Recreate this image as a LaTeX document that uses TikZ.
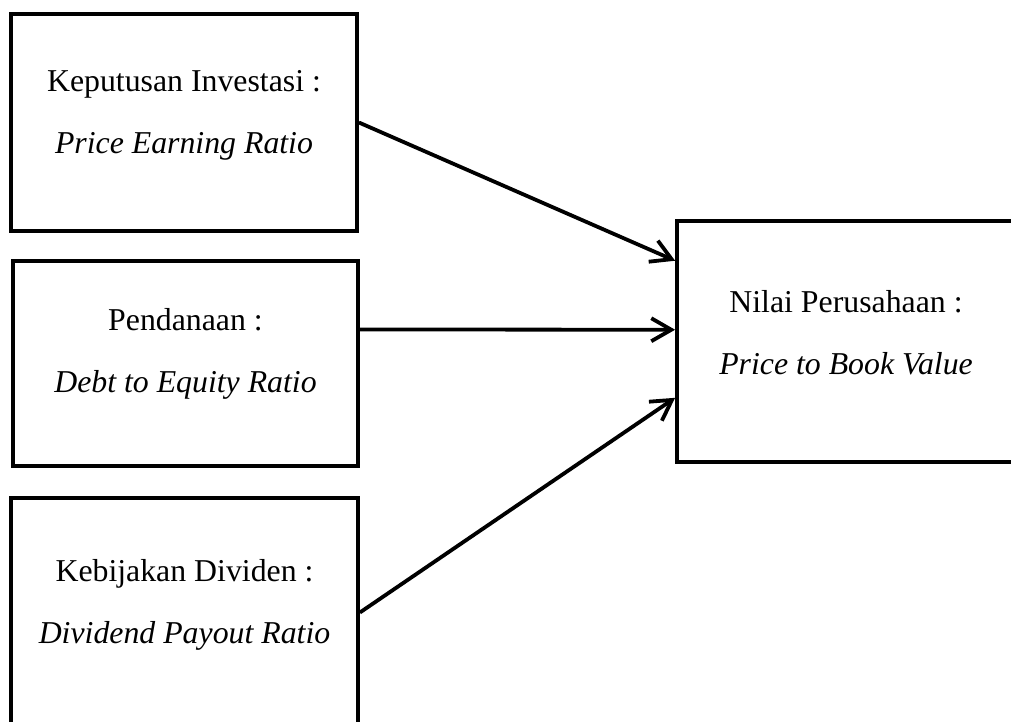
\documentclass[tikz,border=0pt]{standalone}
\usepackage{fontspec}
\setmainfont{Liberation Serif}
\usetikzlibrary{arrows.meta,calc}

\begin{document}
\begin{tikzpicture}[x=0.5pt,y=-0.5pt]
    \tikzset{box/.style={draw, line width=1.9pt, inner sep=0},
             boxtext/.style={align=center, inner sep=0, font=\fontsize{15.9pt}{31pt}\selectfont},
             arr/.style={-{Straight Barb[length=10pt,width=11.5pt]}, line width=1.9pt}}
    \useasboundingbox (0,0) rectangle (1011,722);
    \node (KI) [box, minimum width=173pt, minimum height=108.5pt] at (184.0,122.5) {};
    \node (PD) [box, minimum width=172.5pt, minimum height=102.5pt] at (185.5,363.5) {};
    \node (KD) [box, minimum width=173.5pt, minimum height=114.5pt] at (184.5,612.5) {};
    \node (NP) [box, minimum width=169pt, minimum height=120.5pt] at (846.0,341.5) {};
    \node (KI-txt) [boxtext] at ([yshift=3.75pt]KI.center) {Keputusan Investasi :\\ \textit{Price Earning Ratio}};
    \node (PD-txt) [boxtext] at ([yshift=5pt]PD.center) {Pendanaan :\\ \textit{Debt to Equity Ratio}};
    \node (KD-txt) [boxtext] at ([yshift=4pt]KD.center) {Kebijakan Dividen :\\ \textit{Dividend Payout Ratio}};
    \node (NP-txt) [boxtext] at ([yshift=4.25pt]NP.center) {Nilai Perusahaan :\\ \textit{Price to Book Value}};
    \draw [arr] (KI.east) -- ($(NP.north west)!0.17!(NP.south west)$);
    \draw [arr] ($(PD.north east)!0.337!(PD.south east)$) -- ($(NP.north west)!0.452!(NP.south west)$);
    \draw [arr] (KD.east) -- ($(NP.north west)!0.73!(NP.south west)$);
\end{tikzpicture}
\end{document}
